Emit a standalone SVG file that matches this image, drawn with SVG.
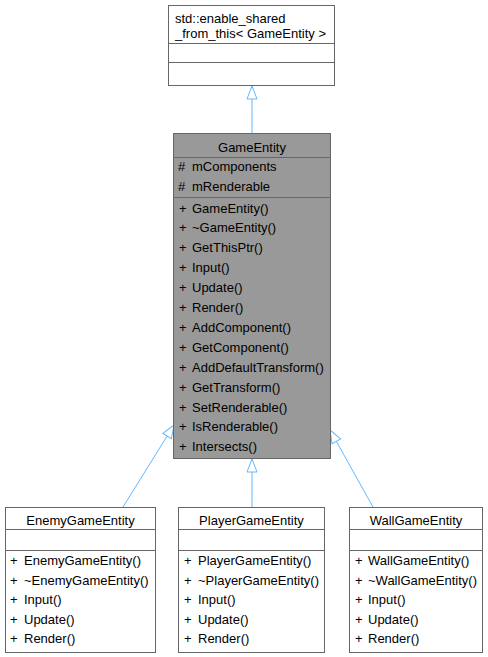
<svg xmlns="http://www.w3.org/2000/svg" width="488" height="657" viewBox="0 0 488 657">
  <style>
    text { font-family: "Liberation Sans", Arial, Helvetica, sans-serif; font-size: 13px; fill: #000; }
    .c { text-anchor: middle; }
    .box { fill: #fff; stroke: #666; stroke-width: 1; }
    .base { fill: #999; stroke: #666; stroke-width: 1; }
    .sep { stroke: #666; stroke-width: 1; }
    .edge { fill: none; stroke: #63b8ff; stroke-width: 1; marker-end: url(#inherit); }
  </style>
  <defs>
    <marker id="inherit" markerUnits="userSpaceOnUse" viewBox="-1 -1 15 12" markerWidth="15" markerHeight="12" refX="13" refY="5" orient="auto">
      <path d="M0,0 L13,5 L0,10 Z" fill="#fff" stroke="#63b8ff" stroke-width="1"/>
    </marker>
  </defs>

  <rect width="488" height="657" fill="#fff"/>

  <!-- inheritance edges -->
  <g id="edges">
    <path class="edge" d="M252,133 L252,86"/>
    <path class="edge" d="M252,507 L252,459"/>
    <path class="edge" d="M123,507 L174,425"/>
    <path class="edge" d="M373,507 L330,430"/>
  </g>

  <g id="enable_shared_from_this">
    <rect class="box" x="168.5" y="5.5" width="166" height="80"/>
    <text x="175" y="23">std::enable_shared</text>
    <text x="175" y="38">_from_this&lt; GameEntity &gt;</text>
    <line class="sep" x1="168.5" y1="43.5" x2="334.5" y2="43.5"/>
    <line class="sep" x1="168.5" y1="62.5" x2="334.5" y2="62.5"/>
  </g>

  <g id="GameEntity">
    <rect class="base" x="173.5" y="133.5" width="157" height="325"/>
    <text class="c" x="252" y="152">GameEntity</text>
    <line class="sep" x1="173.5" y1="157.5" x2="330.5" y2="157.5"/>
    <text x="178" y="171">#</text><text x="192" y="171">mComponents</text>
    <text x="178" y="191">#</text><text x="192" y="191">mRenderable</text>
    <line class="sep" x1="173.5" y1="197.5" x2="330.5" y2="197.5"/>
    <text x="179" y="212.5">+</text><text x="192" y="212.5">GameEntity()</text>
    <text x="179" y="232.4">+</text><text x="192" y="232.4">~GameEntity()</text>
    <text x="179" y="252.3">+</text><text x="192" y="252.3">GetThisPtr()</text>
    <text x="179" y="272.2">+</text><text x="192" y="272.2">Input()</text>
    <text x="179" y="292.1">+</text><text x="192" y="292.1">Update()</text>
    <text x="179" y="312">+</text><text x="192" y="312">Render()</text>
    <text x="179" y="331.9">+</text><text x="192" y="331.9">AddComponent()</text>
    <text x="179" y="351.8">+</text><text x="192" y="351.8">GetComponent()</text>
    <text x="179" y="371.7">+</text><text x="192" y="371.7">AddDefaultTransform()</text>
    <text x="179" y="391.6">+</text><text x="192" y="391.6">GetTransform()</text>
    <text x="179" y="411.5">+</text><text x="192" y="411.5">SetRenderable()</text>
    <text x="179" y="431.4">+</text><text x="192" y="431.4">IsRenderable()</text>
    <text x="179" y="451.3">+</text><text x="192" y="451.3">Intersects()</text>
  </g>

  <g id="EnemyGameEntity">
    <rect class="box" x="5.5" y="507.5" width="150" height="145"/>
    <text class="c" x="80.5" y="525">EnemyGameEntity</text>
    <line class="sep" x1="5.5" y1="529.5" x2="155.5" y2="529.5"/>
    <line class="sep" x1="5.5" y1="550.5" x2="155.5" y2="550.5"/>
    <text x="10" y="565">+</text><text x="24" y="565">EnemyGameEntity()</text>
    <text x="10" y="584.5">+</text><text x="24" y="584.5">~EnemyGameEntity()</text>
    <text x="10" y="604">+</text><text x="24" y="604">Input()</text>
    <text x="10" y="623.5">+</text><text x="24" y="623.5">Update()</text>
    <text x="10" y="643">+</text><text x="24" y="643">Render()</text>
  </g>

  <g id="PlayerGameEntity">
    <rect class="box" x="178.5" y="507.5" width="146" height="145"/>
    <text class="c" x="251.5" y="525">PlayerGameEntity</text>
    <line class="sep" x1="178.5" y1="529.5" x2="324.5" y2="529.5"/>
    <line class="sep" x1="178.5" y1="550.5" x2="324.5" y2="550.5"/>
    <text x="184" y="565">+</text><text x="198" y="565">PlayerGameEntity()</text>
    <text x="184" y="584.5">+</text><text x="198" y="584.5">~PlayerGameEntity()</text>
    <text x="184" y="604">+</text><text x="198" y="604">Input()</text>
    <text x="184" y="623.5">+</text><text x="198" y="623.5">Update()</text>
    <text x="184" y="643">+</text><text x="198" y="643">Render()</text>
  </g>

  <g id="WallGameEntity">
    <rect class="box" x="349.5" y="507.5" width="133" height="145"/>
    <text class="c" x="416" y="525">WallGameEntity</text>
    <line class="sep" x1="349.5" y1="529.5" x2="482.5" y2="529.5"/>
    <line class="sep" x1="349.5" y1="550.5" x2="482.5" y2="550.5"/>
    <text x="355" y="565">+</text><text x="368" y="565">WallGameEntity()</text>
    <text x="355" y="584.5">+</text><text x="368" y="584.5">~WallGameEntity()</text>
    <text x="355" y="604">+</text><text x="368" y="604">Input()</text>
    <text x="355" y="623.5">+</text><text x="368" y="623.5">Update()</text>
    <text x="355" y="643">+</text><text x="368" y="643">Render()</text>
  </g>
</svg>
